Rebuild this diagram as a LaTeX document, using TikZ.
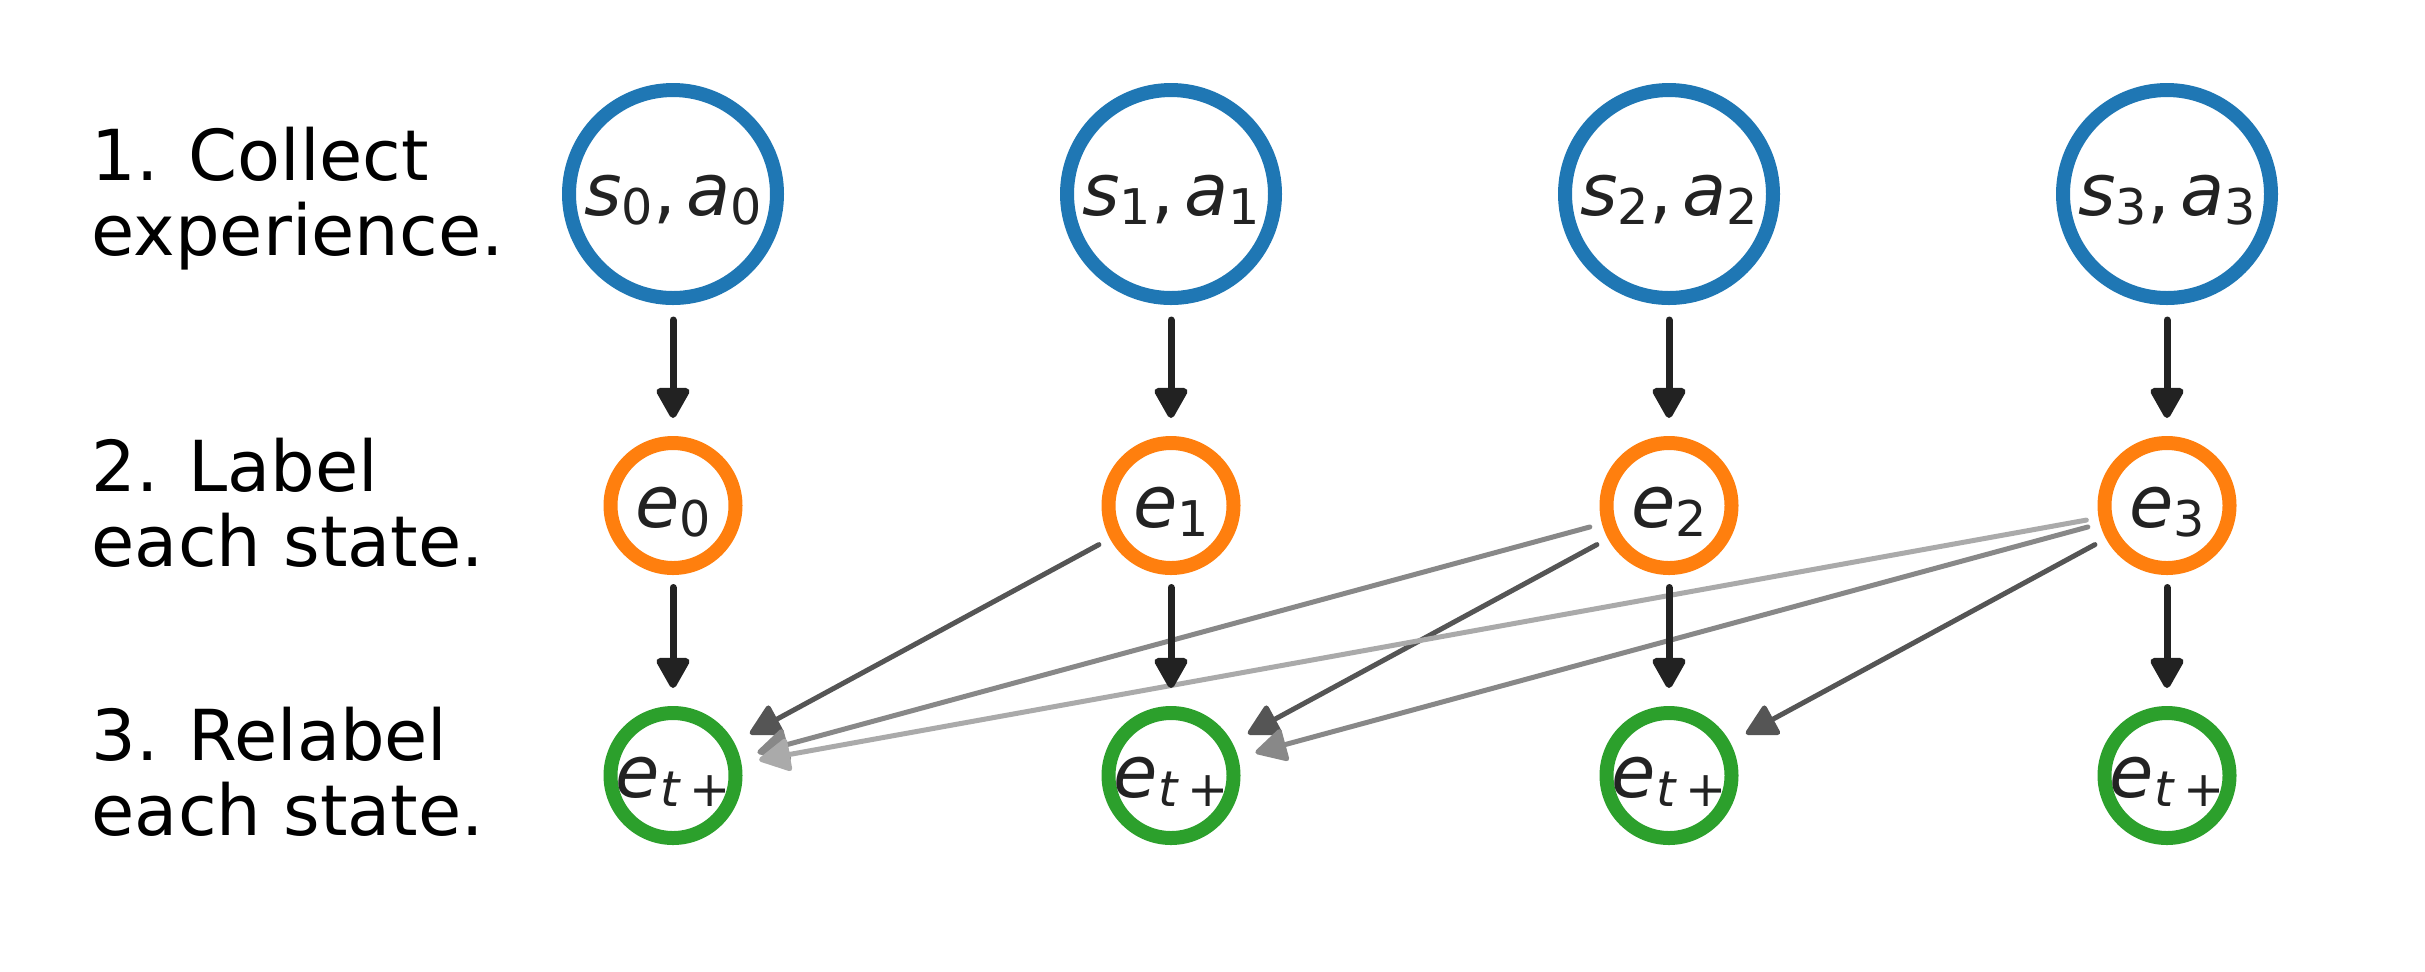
\documentclass[tikz,border=0pt]{standalone}
\usepackage{fontspec}
\setmainfont{DejaVu Sans}
\usetikzlibrary{arrows.meta}
\definecolor{cblue}{HTML}{1F77B4}
\definecolor{corange}{HTML}{FF7F0E}
\definecolor{cgreen}{HTML}{2CA02C}
\definecolor{inkc}{HTML}{222222}
\definecolor{gdark}{HTML}{555555}
\definecolor{gmid}{HTML}{888888}
\definecolor{glight}{HTML}{AAAAAA}
\newcommand{\mysubs}[1]{\raisebox{-0.13em}{\fontsize{14pt}{15pt}\selectfont #1}}
\tikzset{
  ring/.style={circle, fill=white, line width=1.4mm, inner sep=0pt,
    text=inkc, font=\fontsize{20.5pt}{24pt}\selectfont, text height=4.3mm, text depth=0mm},
  bigring/.style={ring, draw=cblue, minimum size=20.8mm, outer sep=2.2mm},
  orring/.style={ring, draw=corange, minimum size=12.5mm, outer sep=1.95mm},
  grring/.style={ring, draw=cgreen, minimum size=12.5mm, outer sep=1.95mm},
  vert/.style={inkc, line width=0.7mm, line cap=round, shorten >=0.55mm,
    -{Triangle[length=3.4mm, width=3.6mm, round]}},
  diag/.style={line width=0.5mm, line cap=round, shorten >=0.55mm,
    -{Triangle[length=3.4mm, width=3.5mm, round]}},
  lefttext/.style={anchor=north west, inner sep=0pt, align=left, text=black,
    font=\fontsize{20pt}{7.55mm}\selectfont}
}
\begin{document}
\begin{tikzpicture}[x=0.1mm, y=-0.1mm]
\useasboundingbox (0,0) rectangle (2425,971);
% left texts
\node[lefttext] (t1) at (91,126) {1. Collect\\experience.};
\node[lefttext] (t2) at (91,437) {2. Label\\each state.};
\node[lefttext] (t3) at (91,706) {3. Relabel\\each state.};
% row 1
\node[bigring] (b0) at (673,194) {\textit{s}\mysubs{0},\hspace{0.14em}\textit{a}\mysubs{0}};
\node[bigring] (b1) at (1171,194) {\textit{s}\mysubs{1},\hspace{0.14em}\textit{a}\mysubs{1}};
\node[bigring] (b2) at (1669,194) {\textit{s}\mysubs{2},\hspace{0.14em}\textit{a}\mysubs{2}};
\node[bigring] (b3) at (2167,194) {\textit{s}\mysubs{3},\hspace{0.14em}\textit{a}\mysubs{3}};
% row 2
\node[orring] (o0) at (673,505.5) {\textit{e}\mysubs{0}};
\node[orring] (o1) at (1171,505.5) {\textit{e}\mysubs{1}};
\node[orring] (o2) at (1669,505.5) {\textit{e}\mysubs{2}};
\node[orring] (o3) at (2167,505.5) {\textit{e}\mysubs{3}};
% row 3
\node[grring] (g0) at (673,775.5) {\textit{e}\mysubs{\textit{t}\,+}};
\node[grring] (g1) at (1171,775.5) {\textit{e}\mysubs{\textit{t}\,+}};
\node[grring] (g2) at (1669,775.5) {\textit{e}\mysubs{\textit{t}\,+}};
\node[grring] (g3) at (2167,775.5) {\textit{e}\mysubs{\textit{t}\,+}};
% diagonal relabel arrows
\draw[diag, gdark] (o1) -- (g0);
\draw[diag, gmid] (o2) -- (g0);
\draw[diag, gdark] (o2) -- (g1);
\draw[diag, glight] (o3) -- (g0);
\draw[diag, gmid] (o3) -- (g1);
\draw[diag, gdark] (o3) -- (g2);
% vertical arrows
\foreach \i in {0,1,2,3} {
  \draw[vert] (b\i) -- (o\i);
  \draw[vert] (o\i) -- (g\i);
}
\end{tikzpicture}
\end{document}
